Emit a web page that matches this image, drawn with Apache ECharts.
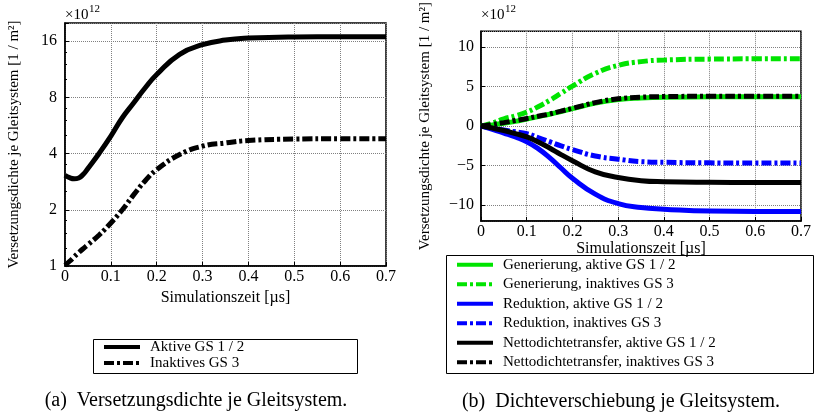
<!DOCTYPE html>
<html>
<head>
<meta charset="utf-8">
<script src="https://cdn.jsdelivr.net/npm/echarts@6/dist/echarts.min.js"></script>
<style>
  html, body { margin: 0; padding: 0; background: #fff; }
  #dataV { width: 816px; height: 418px; }
</style>
</head>
<body>
<div id="dataV"></div>
<script>
// Zeitpunkte [µs]
const zeitA = [0, 0.01, 0.02, 0.03, 0.04, 0.05, 0.075, 0.1, 0.125, 0.15, 0.175, 0.2, 0.25, 0.3, 0.35, 0.4, 0.5, 0.6, 0.7];
const zeitB = [0, 0.025, 0.05, 0.075, 0.1, 0.125, 0.15, 0.175, 0.2, 0.25, 0.3, 0.35, 0.4, 0.5, 0.6, 0.7];

// (a) Versetzungsdichte [x 1e12 1/m^2]
const aktivDichte = [3.06, 2.97, 2.93, 2.96, 3.1, 3.33, 4.03, 4.96, 6.22, 7.48, 9.0, 10.6, 13.6, 15.3, 16.2, 16.6, 16.85, 16.9, 16.9];
const inaktivDichte = [1.01, 1.06, 1.12, 1.18, 1.24, 1.3, 1.47, 1.7, 2.0, 2.41, 2.86, 3.28, 3.95, 4.38, 4.56, 4.7, 4.78, 4.8, 4.8];

// (b) Dichteverschiebung [x 1e12 1/m^2]
const genAktiv = [0, 0.15, 0.35, 0.6, 0.9, 1.2, 1.5, 1.85, 2.2, 2.9, 3.35, 3.55, 3.65, 3.7, 3.72, 3.72];
const genInaktiv = [0, 0.4, 0.92, 1.3, 1.77, 2.45, 3.25, 4.15, 5.06, 6.67, 7.67, 8.15, 8.35, 8.47, 8.5, 8.5];
const redAktiv = [0, -0.4, -0.88, -1.38, -1.97, -2.85, -3.98, -5.3, -6.59, -8.6, -9.8, -10.3, -10.5, -10.75, -10.8, -10.8];
const redInaktiv = [0, -0.22, -0.5, -0.72, -0.96, -1.45, -1.97, -2.5, -2.97, -3.78, -4.18, -4.5, -4.58, -4.65, -4.67, -4.67];
const nettoAktiv = [0, -0.25, -0.56, -0.95, -1.37, -2.0, -2.77, -3.6, -4.38, -5.78, -6.5, -6.9, -7.03, -7.1, -7.12, -7.12];
const nettoInaktiv = [0, 0.2, 0.44, 0.7, 0.96, 1.25, 1.53, 1.9, 2.25, 2.97, 3.45, 3.65, 3.73, 3.77, 3.78, 3.78];

const namenA = ["Aktive GS 1 / 2", "Inaktives GS 3"];
const namenB = [
  "Generierung, aktive GS 1 / 2",
  "Generierung, inaktives GS 3",
  "Reduktion, aktive GS 1 / 2",
  "Reduktion, inaktives GS 3",
  "Nettodichtetransfer, aktive GS 1 / 2",
  "Nettodichtetransfer, inaktives GS 3"
];

const font = "Liberation Serif";
const strichPunkt = [10, 3, 3, 3];
const gruen = "#00e400";
const blau = "#0000ff";

let myChart = echarts.init(document.getElementById("dataV"));

function kurve(name, zeit, werte, farbe, typ, achse) {
  return {
    name: name,
    type: "line",
    xAxisIndex: achse,
    yAxisIndex: achse,
    data: werte.map((v, i) => [zeit[i], v]),
    symbol: "none",
    smooth: 0.5,
    lineStyle: { color: farbe, width: 5, type: typ, cap: "butt" },
    itemStyle: { color: farbe }
  };
}

const achsText = { fontFamily: font, fontSize: 15, color: "#000" };
const tickText = { fontFamily: font, fontSize: 16, color: "#000" };

function xAchse(grid) {
  return {
    gridIndex: grid,
    type: "value",
    min: 0,
    max: 0.7,
    interval: 0.1,
    name: "Simulationszeit [µs]",
    nameLocation: "middle",
    nameGap: 19,
    nameTextStyle: tickText,
    axisLine: { onZero: false, lineStyle: { color: "#000", width: 1.5 } },
    axisTick: { inside: true, length: 4, lineStyle: { color: "#000" } },
    axisLabel: Object.assign({ margin: 3 }, tickText),
    splitLine: { lineStyle: { color: "#808080", type: "dotted", width: 1 } }
  };
}

function legende(namen, links, oben, zeile) {
  return {
    data: namen,
    orient: "vertical",
    left: links,
    top: oben,
    padding: 0,
    itemGap: 0,
    itemWidth: 36,
    itemHeight: 12,
    selectedMode: false,
    itemStyle: { opacity: 0 },
    lineStyle: { width: 4 },
    textStyle: { fontFamily: font, fontSize: 15, color: "#000", lineHeight: zeile, padding: [0, 0, 0, 5] }
  };
}

let option = {
  animation: false,
  grid: [
    { left: 65, top: 23, width: 321, height: 243, show: true, borderColor: "#000", borderWidth: 1.5 },
    { left: 481, top: 23, width: 320, height: 198, show: true, borderColor: "#000", borderWidth: 1.5 }
  ],
  xAxis: [xAchse(0), xAchse(1)],
  yAxis: [
    {
      gridIndex: 0,
      type: "log",
      logBase: 2,
      min: 1,
      max: 20,
      name: "Versetzungsdichte je Gleitsystem [1 / m²]",
      nameLocation: "middle",
      nameGap: 43,
      nameTextStyle: achsText,
      axisLine: { lineStyle: { color: "#000", width: 1.5 } },
      axisTick: { inside: true, length: 4, lineStyle: { color: "#000" } },
      minorTick: { show: true, splitNumber: 4, length: 2, lineStyle: { color: "#000" } },
      axisLabel: Object.assign({ margin: 8, showMaxLabel: false }, tickText),
      splitLine: { lineStyle: { color: "#808080", type: "dotted", width: 1 } }
    },
    {
      gridIndex: 1,
      type: "value",
      min: -12,
      max: 12,
      name: "Versetzungsdichte je Gleitsystem [1 / m²]",
      nameLocation: "middle",
      nameGap: 48,
      nameTextStyle: achsText,
      axisLine: { onZero: false, lineStyle: { color: "#000", width: 1.5 } },
      axisTick: { inside: true, length: 4, lineStyle: { color: "#000" } },
      axisLabel: Object.assign({
        margin: 7,
        showMinLabel: false,
        showMaxLabel: false,
        formatter: v => (v < 0 ? "\u2212" + (-v) : String(v))
      }, tickText),
      splitLine: { lineStyle: { color: "#808080", type: "dotted", width: 1 } }
    }
  ],
  legend: [legende(namenA, 102, 339, 16), legende(namenB, 455, 255, 19.5)],
  graphic: [
    // Rahmen der Legenden
    { type: "rect", shape: { x: 93.5, y: 339.5, width: 264, height: 34 }, style: { fill: "none", stroke: "#000", lineWidth: 1 }, z: -1 },
    { type: "rect", shape: { x: 446.5, y: 255.5, width: 367, height: 118 }, style: { fill: "none", stroke: "#000", lineWidth: 1 }, z: -1 },
    // Exponent ueber den Achsen
    { type: "text", x: 65, y: 15, style: { text: "×10", font: "15px " + font, fill: "#000", verticalAlign: "middle" } },
    { type: "text", x: 89, y: 9, style: { text: "12", font: "11px " + font, fill: "#000", verticalAlign: "middle" } },
    { type: "text", x: 481, y: 15, style: { text: "×10", font: "15px " + font, fill: "#000", verticalAlign: "middle" } },
    { type: "text", x: 505, y: 9, style: { text: "12", font: "11px " + font, fill: "#000", verticalAlign: "middle" } },
    // Bildunterschriften
    { type: "text", x: 196, y: 401, style: { text: "(a)  Versetzungsdichte je Gleitsystem.", font: "20px " + font, fill: "#000", align: "center", verticalAlign: "middle" } },
    { type: "text", x: 621, y: 402, style: { text: "(b)  Dichteverschiebung je Gleitsystem.", font: "20px " + font, fill: "#000", align: "center", verticalAlign: "middle" } }
  ],
  series: [
    kurve(namenA[0], zeitA, aktivDichte, "#000", "solid", 0),
    kurve(namenA[1], zeitA, inaktivDichte, "#000", strichPunkt, 0),
    kurve(namenB[0], zeitB, genAktiv, gruen, "solid", 1),
    kurve(namenB[1], zeitB, genInaktiv, gruen, strichPunkt, 1),
    kurve(namenB[2], zeitB, redAktiv, blau, "solid", 1),
    kurve(namenB[3], zeitB, redInaktiv, blau, strichPunkt, 1),
    kurve(namenB[4], zeitB, nettoAktiv, "#000", "solid", 1),
    kurve(namenB[5], zeitB, nettoInaktiv, "#000", strichPunkt, 1)
  ]
};

myChart.setOption(option);
</script>
</body>
</html>
